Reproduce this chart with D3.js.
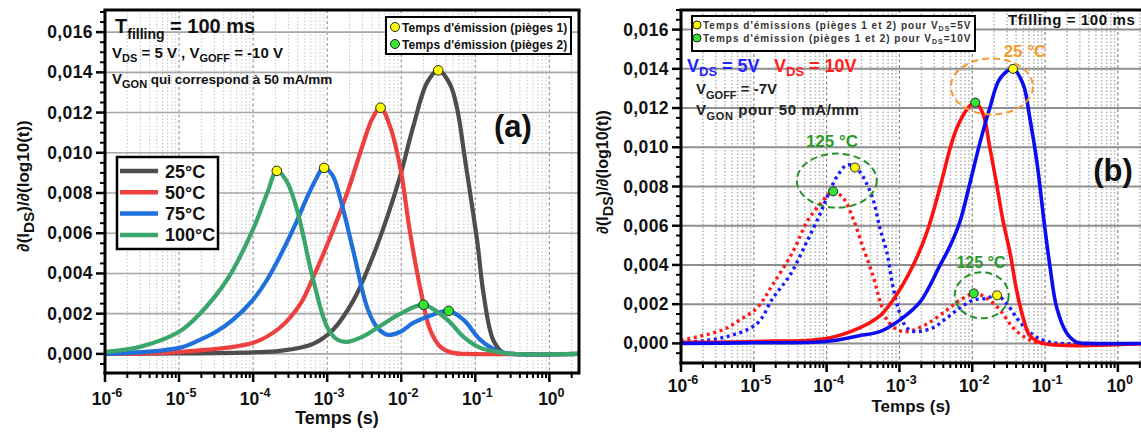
<!DOCTYPE html>
<html><head><meta charset="utf-8">
<script src="https://cdn.jsdelivr.net/npm/d3@7"></script>
<style>
body{margin:0;background:#fff}
svg{display:block}
text{font-family:"Liberation Sans",Arial,sans-serif;font-weight:bold}
</style>
</head><body>
<svg id="c" width="1141" height="433"></svg>
<script>
// ---------- shared axis data ----------
const decades = [1e-6,1e-5,1e-4,1e-3,1e-2,1e-1,1];
const decadeExps = ["-6","-5","-4","-3","-2","-1","0"];
const yTicks = [0,0.002,0.004,0.006,0.008,0.010,0.012,0.014,0.016];
const yTickLabels = ["0,000","0,002","0,004","0,006","0,008","0,010","0,012","0,014","0,016"];
const tempLabels = ["25°C","50°C","75°C","100°C"];

// ---------- panel (a) series ----------
const a25_t = [1e-6,1e-5,1e-4,2.29e-4,6.46e-4,1.20e-3,2.29e-3,3.80e-3,6.46e-3,9.77e-3,1.45e-2,2.24e-2,3.16e-2,4.57e-2,5.75e-2,7.24e-2,8.51e-2,0.107,0.129,0.174,0.240,0.316,2.51];
const a25_v = [0,0.00002,0.00008,0.00015,0.0005,0.0012,0.0027,0.0045,0.0068,0.0089,0.0113,0.0135,0.0141,0.0134,0.0121,0.0097,0.0080,0.0055,0.0030,0.0007,0.00005,0,0];

const a50_t = [1e-6,1e-5,1e-4,2.29e-4,4.37e-4,6.46e-4,1.10e-3,1.86e-3,3.09e-3,4.07e-3,5.25e-3,7.08e-3,9.77e-3,1.32e-2,1.82e-2,2.45e-2,3.39e-2,5.01e-2,7.94e-2,2.51];
const a50_v = [0,0.0001,0.00055,0.0013,0.0025,0.0038,0.0058,0.0080,0.0105,0.0117,0.01224,0.0113,0.0092,0.0060,0.0032,0.0012,0.00035,0.00005,0,0];

const a75_t = [1e-6,1e-5,1.91e-5,3.16e-5,5.37e-5,1e-4,1.55e-4,2.57e-4,3.89e-4,5.37e-4,7.08e-4,8.91e-4,1.17e-3,1.51e-3,2.29e-3,3.47e-3,4.68e-3,6.46e-3,9.77e-3,1.45e-2,2.45e-2,4.37e-2,6.92e-2,0.117,0.200,0.316,2.51];
const a75_v = [0,0.0003,0.0007,0.0011,0.0017,0.0027,0.0037,0.0052,0.0066,0.0078,0.0087,0.00925,0.0089,0.0077,0.0050,0.0023,0.00134,0.00095,0.0011,0.00154,0.0019,0.00214,0.0017,0.0007,0.00015,0,0];

const a100_t = [1e-6,2.95e-6,1e-5,1.91e-5,4.47e-5,1e-4,1.55e-4,2.09e-4,2.82e-4,3.89e-4,6.46e-4,1e-3,1.38e-3,1.86e-3,3.16e-3,5.25e-3,9.77e-3,2.00e-2,4.17e-2,6.92e-2,0.117,0.200,0.316,2.51];
const a100_v = [0.0001,0.00035,0.0011,0.0020,0.0037,0.0062,0.0080,0.0091,0.0086,0.0072,0.0037,0.00134,0.0007,0.0006,0.0009,0.0014,0.0020,0.00244,0.0017,0.00085,0.0003,0.0001,0,0];

const aTrap1_t = [3.16e-2,5.25e-3,9.1e-4,2.09e-4];
const aTrap1_v = [0.0141,0.01224,0.00925,0.0091];
const aTrap2_t = [2.0e-2,4.37e-2];
const aTrap2_v = [0.00244,0.00214];

// ---------- panel (b) series ----------
const b5v25_t = [1e-6,1e-5,1e-4,2.88e-4,5.37e-4,1.02e-3,1.91e-3,3.63e-3,5.01e-3,6.76e-3,9.33e-3,1.29e-2,1.74e-2,2.40e-2,3.63e-2,5.01e-2,6.17e-2,7.76e-2,9.55e-2,0.117,0.145,0.200,0.275,0.398,2.51];
const b5v25_v = [0,0.00003,0.0001,0.0004,0.0006,0.0012,0.0021,0.0040,0.0050,0.0062,0.0082,0.0103,0.0120,0.0135,0.0140,0.0132,0.0115,0.0092,0.0064,0.0039,0.0018,0.0005,0.00005,0,0];

const b10v25_t = [1e-6,1e-5,1e-4,2.88e-4,5.37e-4,8.13e-4,1.55e-3,2.40e-3,3.63e-3,5.01e-3,6.17e-3,8.32e-3,1.10e-2,1.41e-2,1.74e-2,2.19e-2,2.63e-2,3.31e-2,4.07e-2,5.01e-2,6.17e-2,9.33e-2,2.51];
const b10v25_v = [0.00005,0.0001,0.00025,0.0008,0.0014,0.0022,0.0040,0.0057,0.0080,0.0100,0.0110,0.0119,0.0123,0.0117,0.0100,0.0080,0.0063,0.0046,0.0027,0.0013,0.0004,0,0];

const b5v125_t = [1e-6,3.80e-6,1.10e-5,1.82e-5,3.16e-5,5.37e-5,8.13e-5,1e-4,1.38e-4,1.91e-4,2.45e-4,3.16e-4,4.37e-4,5.37e-4,6.76e-4,8.13e-4,1.02e-3,1.26e-3,1.66e-3,2.88e-3,4.47e-3,6.76e-3,1.02e-2,1.58e-2,2.19e-2,3.02e-2,4.07e-2,5.62e-2,7.76e-2,0.107,0.158,2.51];
const b5v125_v = [0.00003,0.0003,0.0010,0.0023,0.0035,0.0052,0.0066,0.0074,0.0085,0.0091,0.0090,0.0085,0.0073,0.0059,0.0046,0.0029,0.0015,0.0008,0.0006,0.0008,0.0013,0.0018,0.0022,0.0023,0.00245,0.0020,0.0013,0.0007,0.0003,0.0001,0,0];

const b10v125_t = [1e-6,3.80e-6,6.46e-6,1.10e-5,1.82e-5,3.47e-5,5.37e-5,8.13e-5,1.23e-4,1.70e-4,2.29e-4,3.16e-4,4.37e-4,5.37e-4,6.76e-4,9.33e-4,1.26e-3,2.40e-3,4.47e-3,6.76e-3,1.10e-2,1.58e-2,2.40e-2,3.63e-2,5.62e-2,8.91e-2,2.51];
const b10v125_v = [0.00015,0.0007,0.0012,0.0018,0.0030,0.0047,0.0062,0.0071,0.00775,0.0074,0.0064,0.0049,0.0034,0.0022,0.0012,0.0007,0.0006,0.0010,0.0017,0.0022,0.00255,0.0023,0.0017,0.0008,0.00025,0,0];

const bTrapY_t = [3.63e-2,2.45e-4,2.19e-2];
const bTrapY_v = [0.0140,0.00897,0.00245];
const bTrapG_t = [1.10e-2,1.23e-4,1.05e-2];
const bTrapG_v = [0.01228,0.00775,0.00255];

// ---------- helpers ----------
const svg = d3.select("#c");
const zip = (t,v) => t.map((d,i)=>[d,v[i]]);

function rich(g, x, y, parts, attrs){
  const t = g.append("text").attr("x",x).attr("y",y);
  Object.entries(attrs||{}).forEach(([k,v])=>t.attr(k,v));
  let shift = 0;
  parts.forEach(p=>{
    const s = t.append("tspan").text(p.t);
    let target = 0;
    if(p.sub) target = p.sub; else if(p.sup) target = -p.sup;
    if(target!==shift){ s.attr("dy", target-shift); shift = target; }
    if(p.fs) s.attr("font-size", p.fs);
    if(p.fill) s.attr("fill", p.fill);
  });
  return t;
}

function makePanel(cfg){
  const g = svg.append("g");
  const x = d3.scaleLog().domain([1e-6, Math.pow(10,0.4)]).range([cfg.left, cfg.right]);
  const y = d3.scaleLinear().domain(cfg.yDom).range([cfg.bottom, cfg.top]);
  const W = Math.min(cfg.right,1141);
  const minors = [];
  for(let e=-6;e<=0;e++) for(let k=2;k<=9;k++){ const v=k*Math.pow(10,e); if(v<=Math.pow(10,0.4)) minors.push(v); }
  g.selectAll(".vmin").data(minors).enter().append("line")
    .attr("x1",d=>x(d)).attr("x2",d=>x(d)).attr("y1",cfg.top).attr("y2",cfg.bottom)
    .attr("stroke",cfg.minorGrid).attr("stroke-width",cfg.minorW).attr("stroke-dasharray","1.5,2");
  g.selectAll(".vmaj").data(decades.slice(1)).enter().append("line")
    .attr("x1",d=>x(d)).attr("x2",d=>x(d)).attr("y1",cfg.top).attr("y2",cfg.bottom)
    .attr("stroke",cfg.majorGrid).attr("stroke-width",1.2).attr("stroke-dasharray","3,2.5");
  g.selectAll(".hg").data(yTicks).enter().append("line")
    .attr("x1",cfg.left).attr("x2",W).attr("y1",d=>y(d)).attr("y2",d=>y(d))
    .attr("stroke",cfg.hGrid).attr("stroke-width",cfg.hGridW);
  const cid = "clip"+cfg.id;
  svg.append("clipPath").attr("id",cid).append("rect")
    .attr("x",cfg.left).attr("y",cfg.top).attr("width",cfg.right-cfg.left).attr("height",cfg.bottom-cfg.top);
  const plot = g.append("g").attr("clip-path",`url(#${cid})`);
  const line = d3.line().x(d=>x(d[0])).y(d=>y(d[1])).curve(d3.curveCatmullRom.alpha(0.5));
  cfg.series.forEach(s=>{
    plot.append("path").attr("d",line(zip(s.t,s.v))).attr("fill","none")
      .attr("stroke",s.color).attr("stroke-width",s.w)
      .attr("stroke-dasharray",s.dash||null).attr("stroke-linejoin","round");
  });
  const yMinor = d3.range(-0.0005,0.0171,0.0005).filter(v=>Math.abs((v/0.002)-Math.round(v/0.002))>1e-6);
  g.selectAll(".ytm").data(yMinor).enter().append("line")
    .attr("x1",cfg.left-5).attr("x2",cfg.left).attr("y1",d=>y(d)).attr("y2",d=>y(d))
    .attr("stroke","#000").attr("stroke-width",2);
  g.selectAll(".ytM").data(yTicks).enter().append("line")
    .attr("x1",cfg.left-9).attr("x2",cfg.left).attr("y1",d=>y(d)).attr("y2",d=>y(d))
    .attr("stroke","#000").attr("stroke-width",2.5);
  g.selectAll(".ytl").data(yTicks).enter().append("text")
    .attr("x",cfg.left-12).attr("y",d=>y(d)+6).attr("text-anchor","end")
    .attr("font-size",cfg.tickFs).attr("letter-spacing",0.4).attr("fill","#111")
    .text((d,i)=>yTickLabels[i]);
  g.selectAll(".xtm").data(minors).enter().append("line")
    .attr("x1",d=>x(d)).attr("x2",d=>x(d)).attr("y1",cfg.bottom).attr("y2",cfg.bottom+5)
    .attr("stroke","#000").attr("stroke-width",2);
  g.selectAll(".xtM").data(decades).enter().append("line")
    .attr("x1",d=>x(d)).attr("x2",d=>x(d)).attr("y1",cfg.bottom).attr("y2",cfg.bottom+9)
    .attr("stroke","#000").attr("stroke-width",2.5);
  decades.forEach((d,i)=>{
    rich(g, x(d)+2, cfg.xLabY, [{t:"10"},{t:decadeExps[i],sup:8,fs:cfg.tickFs*0.72}],
      {"text-anchor":"middle","font-size":cfg.tickFs,"fill":"#111"});
  });
  g.append("line").attr("x1",cfg.left).attr("x2",cfg.left).attr("y1",cfg.top).attr("y2",cfg.bottom+1.5).attr("stroke","#000").attr("stroke-width",3);
  g.append("line").attr("x1",cfg.left-1.5).attr("x2",cfg.right).attr("y1",cfg.bottom).attr("y2",cfg.bottom).attr("stroke","#000").attr("stroke-width",3);
  g.append("line").attr("x1",cfg.left-1.5).attr("x2",cfg.right+1.5).attr("y1",cfg.top).attr("y2",cfg.top).attr("stroke","#000").attr("stroke-width",3);
  g.append("line").attr("x1",cfg.right).attr("x2",cfg.right).attr("y1",cfg.top).attr("y2",cfg.bottom+1.5).attr("stroke","#000").attr("stroke-width",3);
  g.append("text").attr("x",cfg.xTitle[0]).attr("y",cfg.xTitle[1]).attr("text-anchor","middle")
    .attr("font-size",cfg.titleFs).attr("fill","#111").text("Temps (s)");
  const yt = g.append("g").attr("transform",`translate(${cfg.yTitle[0]},${cfg.yTitle[1]}) rotate(-90)`);
  rich(yt,0,0,[{t:"∂(I"},{t:"DS",sub:5,fs:cfg.titleFs*0.85},{t:")/∂(log10(t))"}],
    {"text-anchor":"middle","font-size":cfg.titleFs-1,"fill":"#111"});
  return {g,x,y,plot};
}

// ---------- panel (a) ----------
const colA = ["#4d4d4d","#ef4040","#1f6fdc","#3aa66b"];
const pa = makePanel({
  id:"a", left:105, right:579, top:10, bottom:373, yDom:[-0.00095,0.0171],
  minorGrid:"#c4c4c4", minorW:1, majorGrid:"#9a9a9a", hGrid:"#a8a8a8", hGridW:1.6,
  tickFs:17.5, xLabY:405, titleFs:18, xTitle:[337,424], yTitle:[29,186],
  series:[
    {t:a25_t,v:a25_v,color:colA[0],w:4.2},
    {t:a50_t,v:a50_v,color:colA[1],w:4.2},
    {t:a75_t,v:a75_v,color:colA[2],w:4.2},
    {t:a100_t,v:a100_v,color:colA[3],w:4.2}
  ]
});
pa.plot.selectAll(".ya").data(zip(aTrap1_t,aTrap1_v)).enter().append("circle")
  .attr("cx",d=>pa.x(d[0])).attr("cy",d=>pa.y(d[1])).attr("r",4.8)
  .attr("fill","#ffff00").attr("stroke","#222").attr("stroke-width",1);
pa.plot.selectAll(".ga").data(zip(aTrap2_t,aTrap2_v)).enter().append("circle")
  .attr("cx",d=>pa.x(d[0])).attr("cy",d=>pa.y(d[1])).attr("r",4.8)
  .attr("fill","#33e833").attr("stroke","#222").attr("stroke-width",1);
rich(pa.g,115,33,[{t:"T",fs:20},{t:"filling",sub:6,fs:14},{t:" = 100 ms",fs:20}],{"font-size":20,"fill":"#111"});
rich(pa.g,112,58,[{t:"V"},{t:"DS",sub:4,fs:11},{t:" = 5 V , V"},{t:"GOFF",sub:4,fs:11},{t:" = -10 V"}],{"font-size":15,"fill":"#111"});
rich(pa.g,112,84,[{t:"V"},{t:"GON",sub:4,fs:11},{t:" qui correspond à 50 mA/mm",fs:13.5}],{"font-size":15,"fill":"#111"});
pa.g.append("text").attr("x",513).attr("y",137).attr("text-anchor","middle").attr("font-size",31).attr("fill","#111").text("(a)");
pa.g.append("rect").attr("x",117).attr("y",157).attr("width",101).attr("height",92).attr("fill","#fff").attr("stroke","#000").attr("stroke-width",2.5);
tempLabels.forEach((l,i)=>{
  const yy = 171 + i*21.3;
  pa.g.append("line").attr("x1",120).attr("x2",158).attr("y1",yy).attr("y2",yy).attr("stroke",colA[i]).attr("stroke-width",4.5);
  pa.g.append("text").attr("x",165).attr("y",yy+6.5).attr("font-size",18).attr("fill","#111").text(l);
});
pa.g.append("rect").attr("x",386).attr("y",17).attr("width",185).attr("height",37).attr("fill","#fff").attr("stroke","#000").attr("stroke-width",2);
[["#ffff00","Temps d'émission (pièges 1)"],["#33e833","Temps d'émission (pièges 2)"]].forEach((e,i)=>{
  const yy = 27 + i*17;
  pa.g.append("circle").attr("cx",395).attr("cy",yy).attr("r",4.5).attr("fill",e[0]).attr("stroke","#222");
  pa.g.append("text").attr("x",402).attr("y",yy+4.5).attr("font-size",12).attr("letter-spacing",0.1).attr("fill","#111").text(e[1]);
});

// ---------- panel (b) ----------
const pb = makePanel({
  id:"b", left:681, right:1147, top:10, bottom:363, yDom:[-0.001,0.017],
  minorGrid:"#b8b8b8", minorW:1.6, majorGrid:"#888", hGrid:"#8f8f8f", hGridW:2,
  tickFs:17.5, xLabY:392, titleFs:17, xTitle:[911,412], yTitle:[608,172],
  series:[
    {t:b10v125_t,v:b10v125_v,color:"#ff1a1a",w:3.4,dash:"3,3.6"},
    {t:b5v125_t,v:b5v125_v,color:"#1a1aff",w:3.4,dash:"3,3.6"},
    {t:b10v25_t,v:b10v25_v,color:"#ff1010",w:3.6},
    {t:b5v25_t,v:b5v25_v,color:"#0c0cf0",w:3.6}
  ]
});
const ell = (t,v,rx,ry,col)=>pb.g.append("ellipse").attr("cx",pb.x(t)).attr("cy",pb.y(v)).attr("rx",rx).attr("ry",ry)
  .attr("fill","none").attr("stroke",col).attr("stroke-width",2).attr("stroke-dasharray","7,4");
ell(1.38e-4,0.0083,40,27,"#2a8f2a");
ell(1.35e-2,0.00245,27,23,"#2a8f2a");
ell(1.86e-2,0.0131,41,28,"#f59a30");
pb.plot.selectAll(".yb").data(zip(bTrapY_t,bTrapY_v)).enter().append("circle")
  .attr("cx",d=>pb.x(d[0])).attr("cy",d=>pb.y(d[1])).attr("r",4.5)
  .attr("fill","#ffff00").attr("stroke","#222").attr("stroke-width",1);
pb.plot.selectAll(".gb").data(zip(bTrapG_t,bTrapG_v)).enter().append("circle")
  .attr("cx",d=>pb.x(d[0])).attr("cy",d=>pb.y(d[1])).attr("r",4.5)
  .attr("fill","#33e833").attr("stroke","#222").attr("stroke-width",1);
pb.g.append("text").attr("x",832).attr("y",147).attr("text-anchor","middle").attr("font-size",17).attr("fill","#2a9a2a").text("125 °C");
pb.g.append("text").attr("x",981).attr("y",268).attr("text-anchor","middle").attr("font-size",16).attr("fill","#2a9a2a").text("125 °C");
pb.g.append("text").attr("x",1025).attr("y",57).attr("text-anchor","middle").attr("font-size",17).attr("fill","#f59a30").text("25 °C");
rich(pb.g,687,72,[{t:"V"},{t:"DS",sub:4,fs:13},{t:" = 5V"}],{"font-size":18,"fill":"#2626ff"});
rich(pb.g,774,72,[{t:"V"},{t:"DS",sub:4,fs:13},{t:" = 10V"}],{"font-size":18,"fill":"#ff2020"});
rich(pb.g,696,94,[{t:"V"},{t:"GOFF",sub:5,fs:11},{t:" = -7V"}],{"font-size":15,"fill":"#222"});
rich(pb.g,696,115,[{t:"V"},{t:"GON",sub:5,fs:11},{t:" pour 50 mA/mm"}],{"font-size":15,"fill":"#222","letter-spacing":0.6});
pb.g.append("text").attr("x",1008).attr("y",25).attr("font-size",15).attr("letter-spacing",0.6).attr("fill","#111").text("Tfilling = 100 ms");
pb.g.append("text").attr("x",1113).attr("y",181).attr("text-anchor","middle").attr("font-size",31).attr("fill","#111").text("(b)");
// legend (b)
pb.g.append("rect").attr("x",692).attr("y",16).attr("width",283).attr("height",35).attr("fill","#fff").attr("stroke","#000").attr("stroke-width",2);
rich(pb.g,703,29,[{t:"Temps d'émissions (pièges 1 et 2) pour V"},{t:"DS",sub:2,fs:7},{t:"=5V"}],{"font-size":10,"fill":"#333","letter-spacing":1.0});
rich(pb.g,703,42,[{t:"Temps d'émission  (pièges 1 et 2) pour V"},{t:"DS",sub:2,fs:7},{t:"=10V"}],{"font-size":10,"fill":"#333","letter-spacing":1.0});
pb.g.append("circle").attr("cx",697).attr("cy",25).attr("r",4).attr("fill","#ffff00").attr("stroke","#222");
pb.g.append("circle").attr("cx",697).attr("cy",38).attr("r",4).attr("fill","#33e833").attr("stroke","#222");
</script>
</body></html>
